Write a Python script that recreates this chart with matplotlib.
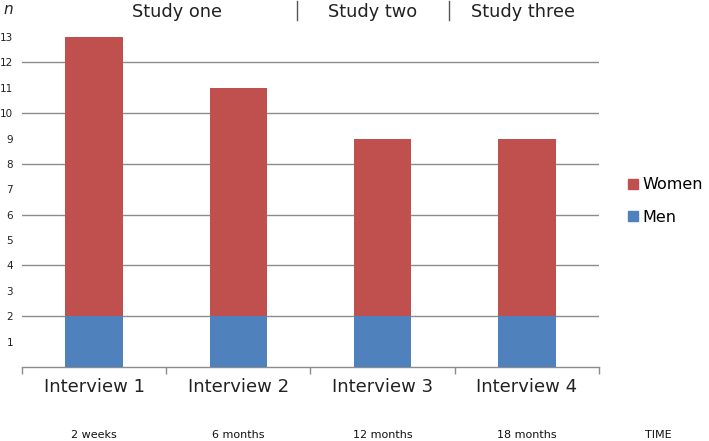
import matplotlib
matplotlib.use("Agg")
from matplotlib import pyplot as plt
from matplotlib.lines import Line2D
from matplotlib.patches import Patch
from matplotlib.transforms import blended_transform_factory
import numpy as np

plt.rcParams['font.family'] = ['DejaVu Sans']

interviews = ["Interview 1", "Interview 2", "Interview 3", "Interview 4"]
times = ["2 weeks", "6 months", "12 months", "18 months"]
men = [2, 2, 2, 2]
women = [11, 9, 7, 7]
studies = ["Study one", "Study two", "Study three"]

RED = "#C0504D"
BLUE = "#4F81BD"
GRID = "#8C8C8C"

W, H = 709, 441
fig = plt.figure(figsize=(W / 100, H / 100), dpi=100)
# axes in pixel units: x 22..599, y baseline 367, value 13 at 37
ax = fig.add_axes([22 / W, (H - 367) / H, (599 - 22) / W, (367 - 37) / H])

x = np.arange(len(interviews))
ax.bar(x, men, width=0.4, color=BLUE, zorder=3)
ax.bar(x, women, width=0.4, bottom=men, color=RED, zorder=3)

ax.set_xlim(-0.5, len(interviews) - 0.5)
ax.set_ylim(0, 13)

# gridlines on even values, labels on every value
ax.set_yticks(range(2, 13, 2))
ax.set_yticks(range(1, 14, 2), minor=True)
ax.set_yticklabels([str(v) for v in range(2, 13, 2)])
ax.set_yticklabels([str(v) for v in range(1, 14, 2)], minor=True)
ax.tick_params(axis="y", which="both", length=0, pad=6.5, labelsize=7.5,
               labelcolor="#222222")
ax.grid(axis="y", which="major", color=GRID, linewidth=1, zorder=0)

ax.set_xticks(x)
ax.set_xticklabels(interviews, fontsize=13, color="#222222")
ax.set_xticks(np.arange(-0.5, len(interviews), 1), minor=True)
ax.tick_params(axis="x", which="major", length=0, pad=8)
ax.tick_params(axis="x", which="minor", length=5, color=GRID, width=1)

for s in ["top", "right", "left"]:
    ax.spines[s].set_visible(False)
ax.spines["bottom"].set_color(GRID)
ax.spines["bottom"].set_linewidth(1)

# time row under the categories
tr = blended_transform_factory(ax.transData, fig.transFigure)
for xi, t in zip(x, times):
    ax.text(xi, 1 - 435 / H, t, transform=tr, ha="center", va="center",
            fontsize=8, color="#111111")
fig.text(658 / W, 1 - 435 / H, "TIME", ha="center", va="center", fontsize=8,
         color="#111111")

# study headers
study_x = [177, 373, 523]
for sx, s in zip(study_x, studies):
    fig.text(sx / W, 1 - 12 / H, s, ha="center", va="center", fontsize=12.8,
             color="#222222")
for lx in [297, 449]:
    fig.add_artist(Line2D([lx / W, lx / W], [1 - 1 / H, 1 - 20 / H],
                          transform=fig.transFigure, color="#555555", lw=1))

fig.text(8 / W, 1 - 9 / H, "n", style="italic", ha="center", va="center",
         fontsize=11, color="#222222")

handles = [Patch(color=RED, label="Women"), Patch(color=BLUE, label="Men")]
fig.legend(handles=handles, loc="center left", bbox_to_anchor=(614 / W, 1 - 201 / H),
           frameon=False, fontsize=11.5, handlelength=0.6, handleheight=0.6,
           handletextpad=0.3, labelspacing=1.1)

fig.savefig("out.png", dpi=100)
